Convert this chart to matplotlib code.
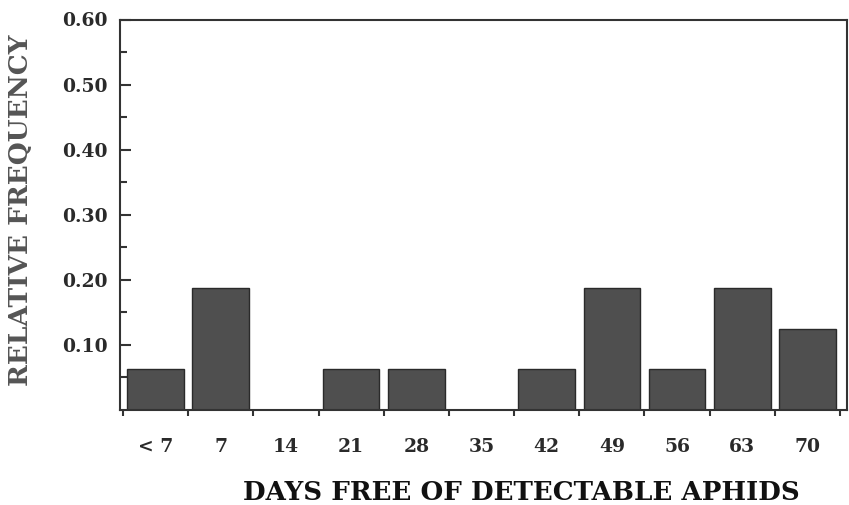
import matplotlib
matplotlib.use("Agg")
import matplotlib.pyplot as plt
import numpy as np

categories = ["< 7", "7", "14", "21", "28", "35", "42", "49", "56", "63", "70"]
rel_freq = [0.0625, 0.1875, 0.0, 0.0625, 0.0625, 0.0, 0.0625, 0.1875, 0.0625, 0.1875, 0.125]
y_ticks = [0.10, 0.20, 0.30, 0.40, 0.50, 0.60]
y_tick_labels = ["0.10", "0.20", "0.30", "0.40", "0.50", "0.60"]

plt.rcParams['font.family'] = ['DejaVu Serif']
plt.rcParams['font.weight'] = 'bold'

fig = plt.figure(figsize=(8.49, 5.05), dpi=100)
ax = fig.add_axes([120/849, 1 - 410/505, (847-120)/849, (410-19.5)/505])

x = np.arange(len(categories))
ax.bar(x, rel_freq, width=0.87, color='#4f4f4f', edgecolor='#2a2a2a', linewidth=1.0, zorder=2)

ax.set_xlim(-0.546, len(categories) - 0.5 + 0.107)
ax.set_ylim(0, 0.60)

# y axis
ax.set_yticks(y_ticks)
ax.set_yticklabels(y_tick_labels, fontsize=13.5, fontweight='bold', color='#2a2a2a')
ax.set_yticks(np.arange(0.05, 0.60, 0.10), minor=True)
ax.tick_params(axis='y', which='major', direction='in', length=8, width=1.5, pad=9, colors='#333333')
ax.tick_params(axis='y', which='minor', direction='in', length=5, width=1.5, colors='#333333')
for lab in ax.get_yticklabels():
    lab.set_color('#2a2a2a')

# x axis: ticks at bin edges, labels at centres
ax.set_xticks(np.arange(len(categories) + 1) - 0.5)
ax.set_xticklabels([])
ax.set_xticks(x, minor=True)
ax.set_xticklabels(categories, minor=True, fontsize=13.5, fontweight='bold', color='#2a2a2a')
ax.tick_params(axis='x', which='major', direction='out', length=4, width=1.5, colors='#333333')
ax.tick_params(axis='x', which='minor', length=0, pad=20, colors='#333333')
for lab in ax.get_xticklabels(minor=True):
    lab.set_color('#2a2a2a')

for s in ax.spines.values():
    s.set_linewidth(1.5)
    s.set_color('#333333')

fig.text(21/849, 1 - 210/505, "RELATIVE FREQUENCY", rotation=90, ha='center', va='center',
         fontsize=19, fontweight='bold', color='#555555')
fig.text(521/849, 1 - 493/505, "DAYS FREE OF DETECTABLE APHIDS", ha='center', va='center',
         fontsize=18.8, fontweight='bold', color='#111111')

fig.savefig("out.png", dpi=100)
